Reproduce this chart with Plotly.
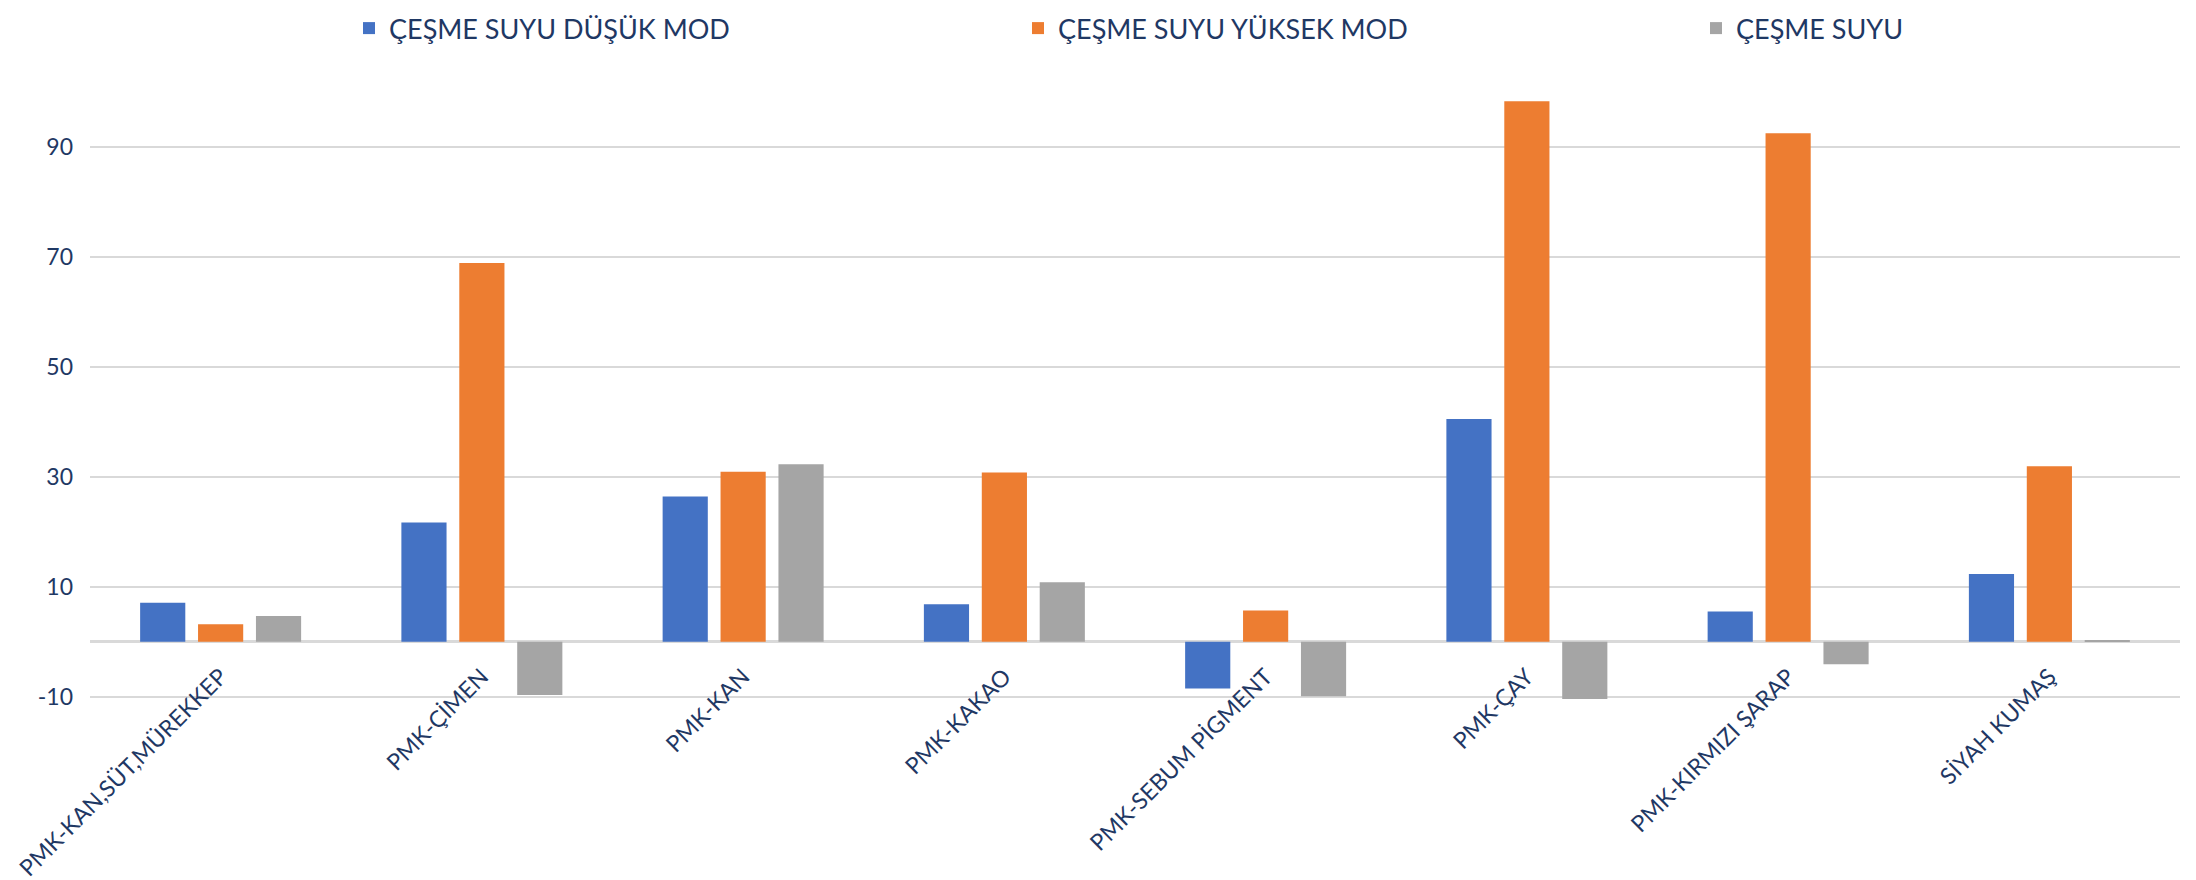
import plotly.graph_objects as go

categories = ["PMK-KAN,SÜT,MÜREKKEP", "PMK-ÇİMEN", "PMK-KAN", "PMK-KAKAO",
              "PMK-SEBUM PİGMENT", "PMK-ÇAY", "PMK-KIRMIZI ŞARAP", "SİYAH KUMAŞ"]
dusuk_mod = [7.1, 21.7, 26.4, 6.8, -8.5, 40.5, 5.5, 12.3]
yuksek_mod = [3.2, 68.9, 30.9, 30.8, 5.7, 98.3, 92.5, 31.9]
cesme_suyu = [4.7, -9.7, 32.3, 10.8, -9.9, -10.4, -4.1, 0.3]
series_names = ["ÇEŞME SUYU DÜŞÜK MOD", "ÇEŞME SUYU YÜKSEK MOD", "ÇEŞME SUYU"]
series_colors = ["#4472C4", "#ED7D31", "#A5A5A5"]
y_tick_vals = [-10, 10, 30, 50, 70, 90]
y_tick_text = ["-10", "10", "30", "50", "70", "90"]

Y_MIN, Y_MAX = -10.6, 100
TEXT = "#1F3864"
FONT = "Lato"

W, H = 2196, 880
ml, mr, mt, mb = 82, 24, 83.5, 188
plot_h = H - mt - mb
plot_w = W - ml - mr

legend_ids = ["legend", "legend2", "legend3"]
legend_px = [363, 1032, 1710]  # left edge of legend symbols, px

fig = go.Figure()
for name, vals, col, lid in zip(series_names, [dusuk_mod, yuksek_mod, cesme_suyu],
                                series_colors, legend_ids):
    fig.add_trace(go.Bar(x=categories, y=vals, name=name, marker_color=col,
                         marker_line_width=0, legend=lid))

legend_layout = {}
for lid, px in zip(legend_ids, legend_px):
    legend_layout[lid] = dict(
        orientation="h", x=(px - 22 - ml) / plot_w, xanchor="left",
        y=1 + (mt - 20) / plot_h, yanchor="middle",
        font=dict(size=27, color=TEXT, family=FONT),
        bgcolor="rgba(0,0,0,0)", borderwidth=0)

fig.update_layout(
    width=W, height=H,
    margin=dict(l=ml, r=mr, t=mt, b=mb, autoexpand=False),
    paper_bgcolor="white", plot_bgcolor="white",
    barmode="group", bargap=0.335, bargroupgap=0.22,
    font=dict(family=FONT, color=TEXT),
    showlegend=True,
    xaxis=dict(anchor="free", position=(0 - Y_MIN) / (Y_MAX - Y_MIN),
               tickangle=-45, tickfont=dict(size=23, color=TEXT, family=FONT),
               showgrid=False, showline=False, ticks="", ticklabelstandoff=16,
               automargin=False),
    yaxis=dict(range=[Y_MIN, Y_MAX], tickmode="array",
               tickvals=y_tick_vals, ticktext=y_tick_text,
               showgrid=True, gridcolor="#D9D9D9", gridwidth=1.5,
               zeroline=True, zerolinecolor="#D9D9D9", zerolinewidth=2.5,
               showline=False, ticks="", ticklabelstandoff=16, automargin=False,
               tickfont=dict(size=23, color=TEXT, family=FONT)),
    **legend_layout,
)

fig.write_html("out.html")
